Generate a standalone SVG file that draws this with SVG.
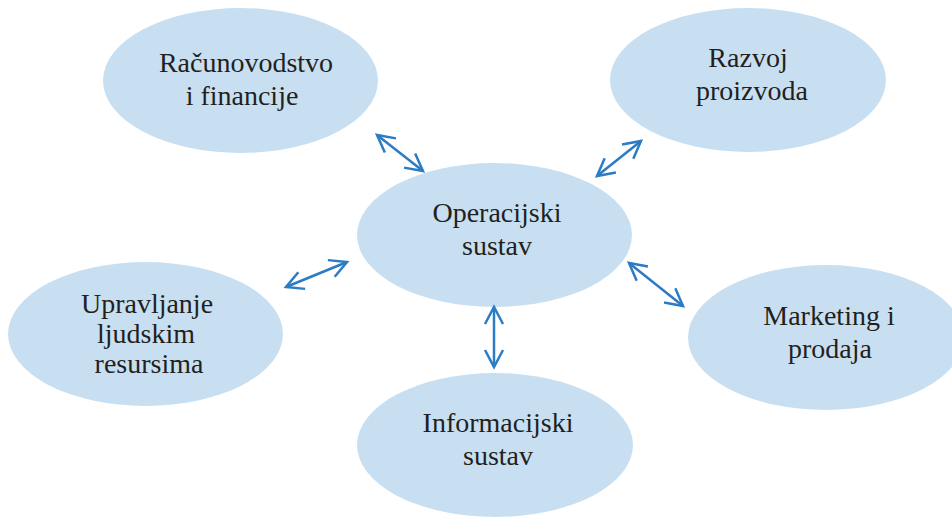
<svg xmlns="http://www.w3.org/2000/svg" width="952" height="518" viewBox="0 0 952 518">
<style>
.node ellipse{fill:#c8dff2;}
.node text{font-family:"Liberation Serif","Times New Roman",serif;font-size:28px;fill:#231f20;text-anchor:middle;}
.conn line{stroke:#2b7cc4;stroke-width:2.5;fill:none;marker-start:url(#ah);marker-end:url(#ah);}
</style>
<defs>
<marker id="ah" markerUnits="userSpaceOnUse" viewBox="-22 -12 26 24" refX="0" refY="0" markerWidth="26" markerHeight="24" orient="auto-start-reverse" overflow="visible">
<path d="M -17 -9 L 0 0 L -17 9" fill="none" stroke="#2b7cc4" stroke-width="2.5" stroke-linejoin="miter"/>
</marker>
</defs>
<rect width="952" height="518" fill="#ffffff"/>
<g id="racunovodstvo" class="node">
<ellipse cx="240.5" cy="80.5" rx="137.5" ry="72.5"/>
<text x="246" y="72">Računovodstvo</text>
<text x="242" y="105">i financije</text>
</g>
<g id="razvoj" class="node">
<ellipse cx="748" cy="80" rx="138" ry="72"/>
<text x="748" y="67">Razvoj</text>
<text x="752" y="100">proizvoda</text>
</g>
<g id="operacijski" class="node">
<ellipse cx="494.5" cy="235" rx="137.5" ry="72"/>
<text x="497" y="222">Operacijski</text>
<text x="497" y="255">sustav</text>
</g>
<g id="upravljanje" class="node">
<ellipse cx="145.5" cy="334" rx="137.5" ry="72"/>
<text x="147" y="313">Upravljanje</text>
<text x="146" y="343">ljudskim</text>
<text x="149" y="373">resursima</text>
</g>
<g id="marketing" class="node">
<ellipse cx="826" cy="337.5" rx="138" ry="72.5"/>
<text x="829" y="325">Marketing i</text>
<text x="830" y="358">prodaja</text>
</g>
<g id="informacijski" class="node">
<ellipse cx="495" cy="445" rx="138" ry="72"/>
<text x="498" y="432">Informacijski</text>
<text x="498" y="465">sustav</text>
</g>
<g id="connectors" class="conn">
<line x1="377" y1="135" x2="423" y2="171"/>
<line x1="641" y1="141" x2="597" y2="176"/>
<line x1="347" y1="262" x2="286" y2="287"/>
<line x1="629" y1="263" x2="683" y2="306"/>
<line x1="494" y1="307" x2="494" y2="367"/>
</g>
</svg>
